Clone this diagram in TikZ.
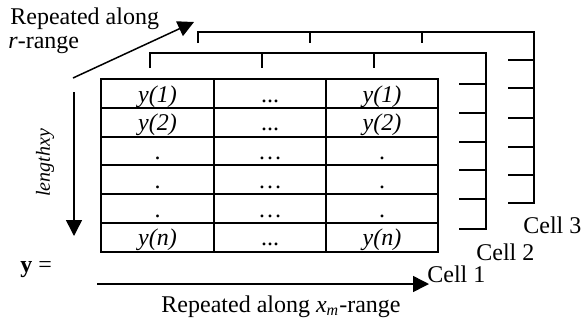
\documentclass[tikz,border=0pt]{standalone}
\usepackage{fontspec}
\setmainfont{Liberation Serif}
\usetikzlibrary{arrows.meta}
\tikzset{
  tablegrid/.style={line width=1pt},
  cellframe/.style={line width=1pt},
  rangearrow/.style={line width=.75pt,-{Triangle[length=8pt,width=8pt]}},
  entry/.style={anchor=base,inner sep=0pt},
  label/.style={inner sep=0pt},
}

\begin{document}
\begin{tikzpicture}[x=.5pt,y=-.5pt,font=\fontsize{12}{14}\selectfont]
\useasboundingbox (0,0) rectangle (582,322);
\node[label,anchor=base west] (toplbl) at (10,24) {Repeated along};
\node[label,anchor=base west] (rlbl) at (8,48) {\textit{r}-range};
\coordinate (rstart) at (73,78);
\coordinate (rend) at (194,22);
\draw[rangearrow] (rstart) -- (rend);
\draw[cellframe] (198,43) -- (198,32) -- (534,32) -- (534,203) -- (508,203);
\draw[cellframe] (310,32) -- (310,43);
\draw[cellframe] (422,32) -- (422,43);
\draw[cellframe] (508,60) -- (534,60);
\draw[cellframe] (508,88) -- (534,88);
\draw[cellframe] (508,118) -- (534,118);
\draw[cellframe] (508,147) -- (534,147);
\draw[cellframe] (508,175) -- (534,175);
\draw[cellframe] (150,68) -- (150,53) -- (486,53) -- (486,229) -- (459,229);
\draw[cellframe] (262,53) -- (262,68);
\draw[cellframe] (374,53) -- (374,68);
\draw[cellframe] (459,84) -- (486,84);
\draw[cellframe] (459,113) -- (486,113);
\draw[cellframe] (459,142) -- (486,142);
\draw[cellframe] (459,170) -- (486,170);
\draw[cellframe] (459,199) -- (486,199);
\draw[tablegrid] (101,79) rectangle (438,251.8);
\draw[tablegrid] (214,79) -- (214,251.8);
\draw[tablegrid] (326,79) -- (326,251.8);
\draw[tablegrid] (101,107.8) -- (438,107.8);
\draw[tablegrid] (101,136.6) -- (438,136.6);
\draw[tablegrid] (101,165.4) -- (438,165.4);
\draw[tablegrid] (101,194.2) -- (438,194.2);
\draw[tablegrid] (101,223) -- (438,223);
\node[entry] (a1) at (157.5,102) {\textit{y(1)}};
\node[entry] (b1) at (270,102) {...};
\node[entry] (c1) at (382,102) {\textit{y(1)}};
\node[entry] (a2) at (157.5,130.8) {\textit{y(2)}};
\node[entry] (b2) at (270,130.8) {...};
\node[entry] (c2) at (382,130.8) {\textit{y(2)}};
\node[entry] (a3) at (157.5,159.6) {.};
\node[entry] (b3) at (270,159.6) {\dots};
\node[entry] (c3) at (382,159.6) {.};
\node[entry] (a4) at (157.5,188.4) {.};
\node[entry] (b4) at (270,188.4) {\dots};
\node[entry] (c4) at (382,188.4) {.};
\node[entry] (a5) at (157.5,217.2) {.};
\node[entry] (b5) at (270,217.2) {\dots};
\node[entry] (c5) at (382,217.2) {.};
\node[entry] (a6) at (157.5,245.5) {\textit{y(n)}};
\node[entry] (b6) at (270,245.5) {...};
\node[entry] (c6) at (382,245.5) {\textit{y(n)}};
\coordinate (lentop) at (74,92);
\coordinate (lenbot) at (74,236);
\draw[rangearrow] (lentop) -- (lenbot);
\node[label,rotate=90,font=\itshape] (lenlbl) at (45,163) {lengthxy};
\node[label,anchor=base west] (ylbl) at (20,272) {\textbf{y} =};
\coordinate (xmstart) at (97,284);
\coordinate (xmend) at (429,284);
\draw[rangearrow] (xmstart) -- (xmend);
\node[label,anchor=base] (xmlbl) at (281,312) {Repeated along \textit{x}\textsubscript{\textit{m}}-range};
\node[label,anchor=base west] (cell1) at (427,282) {Cell 1};
\node[label,anchor=base west] (cell2) at (476,260) {Cell 2};
\node[label,anchor=base west] (cell3) at (523,233) {Cell 3};
\end{tikzpicture}
\end{document}
